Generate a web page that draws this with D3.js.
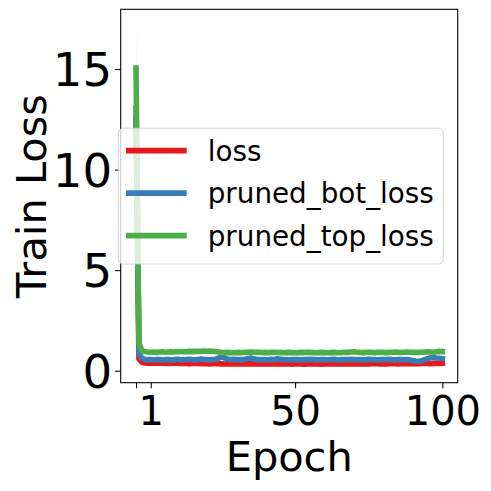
<!DOCTYPE html>
<html>
<head>
<meta charset="utf-8">
<script src="https://cdn.jsdelivr.net/npm/d3@7"></script>
<style>
  html, body { margin: 0; padding: 0; background: #ffffff; }
  svg { display: block; }
  text { font-family: "DejaVu Sans", sans-serif; fill: #000; }
</style>
</head>
<body>
<svg id="chart" width="491" height="491"></svg>
<script>
// ---------------- data ----------------
const epochs = d3.range(-4, 101); // -4 .. 100
const seriesNames = ["loss", "pruned_bot_loss", "pruned_top_loss"];
const seriesColors = ["#e41a1c", "#377eb8", "#4daf4a"];
const xTickValues = [-4, 1, 50, 100];
const xTickLabels = ["", "1", "50", "100"];
const yTickValues = [0, 5, 10, 15];

const lossValues = [12.6, 0.6, 0.42, 0.38, 0.37,
  0.38, 0.37, 0.38, 0.37, 0.38, 0.37, 0.36, 0.37, 0.38, 0.37,
  0.36, 0.37, 0.36, 0.35, 0.36, 0.37, 0.36, 0.35, 0.36, 0.35,
  0.34, 0.35, 0.36, 0.35, 0.34, 0.33, 0.34, 0.33, 0.34, 0.35,
  0.34, 0.33, 0.34, 0.35, 0.34, 0.33, 0.34, 0.35, 0.34, 0.33,
  0.34, 0.33, 0.34, 0.35, 0.34, 0.33, 0.34, 0.33, 0.32, 0.33,
  0.34, 0.33, 0.32, 0.33, 0.34, 0.33, 0.34, 0.33, 0.32, 0.33,
  0.34, 0.33, 0.34, 0.35, 0.34, 0.33, 0.34, 0.35, 0.34, 0.33,
  0.34, 0.35, 0.34, 0.33, 0.34, 0.35, 0.36, 0.35, 0.34, 0.35,
  0.34, 0.35, 0.36, 0.35, 0.34, 0.35, 0.36, 0.35, 0.36, 0.35,
  0.36, 0.35, 0.36, 0.37, 0.36, 0.35, 0.36, 0.37, 0.36, 0.37];

const botValues = [13.05, 0.9, 0.62, 0.56, 0.55,
  0.55, 0.54, 0.56, 0.55, 0.53, 0.55, 0.56, 0.54, 0.55, 0.57,
  0.55, 0.54, 0.56, 0.57, 0.55, 0.54, 0.56, 0.58, 0.56, 0.55,
  0.54, 0.56, 0.57, 0.62, 0.70, 0.64, 0.58, 0.56, 0.57, 0.55,
  0.56, 0.55, 0.57, 0.60, 0.63, 0.59, 0.56, 0.55, 0.56, 0.54,
  0.55, 0.57, 0.56, 0.59, 0.57, 0.55, 0.56, 0.54, 0.55, 0.56,
  0.55, 0.54, 0.56, 0.55, 0.57, 0.56, 0.55, 0.54, 0.56, 0.55,
  0.54, 0.56, 0.57, 0.55, 0.54, 0.55, 0.56, 0.55, 0.57, 0.56,
  0.55, 0.56, 0.54, 0.55, 0.57, 0.56, 0.55, 0.54, 0.56, 0.55,
  0.56, 0.57, 0.55, 0.54, 0.56, 0.55, 0.54, 0.56, 0.53, 0.50,
  0.48, 0.47, 0.50, 0.55, 0.60, 0.64, 0.65, 0.63, 0.62, 0.60];

const topValues = [15.05, 1.35, 1.0, 0.95, 0.93,
  0.92, 0.93, 0.91, 0.93, 0.94, 0.92, 0.93, 0.94, 0.93, 0.95,
  0.94, 0.95, 0.94, 0.96, 0.95, 0.96, 0.97, 0.96, 0.98, 0.97,
  0.98, 0.97, 0.95, 0.93, 0.91, 0.90, 0.91, 0.90, 0.89, 0.90,
  0.91, 0.90, 0.92, 0.91, 0.93, 0.92, 0.91, 0.92, 0.90, 0.91,
  0.90, 0.91, 0.92, 0.90, 0.91, 0.89, 0.90, 0.91, 0.90, 0.89,
  0.90, 0.91, 0.90, 0.92, 0.91, 0.90, 0.89, 0.90, 0.91, 0.90,
  0.89, 0.90, 0.91, 0.90, 0.89, 0.90, 0.92, 0.91, 0.93, 0.94,
  0.92, 0.91, 0.90, 0.91, 0.92, 0.91, 0.90, 0.91, 0.92, 0.91,
  0.90, 0.91, 0.92, 0.93, 0.92, 0.91, 0.92, 0.93, 0.92, 0.91,
  0.92, 0.91, 0.92, 0.93, 0.94, 0.93, 0.92, 0.94, 0.96, 0.95];

const lossStd = [1.0, 0.15, 0.06, 0.05, 0.05,
  0.05, 0.04, 0.05, 0.05, 0.04, 0.05, 0.05, 0.04, 0.05, 0.05,
  0.04, 0.05, 0.05, 0.04, 0.05, 0.04, 0.05, 0.05, 0.04, 0.05,
  0.05, 0.04, 0.05, 0.05, 0.04, 0.05, 0.04, 0.05, 0.05, 0.04,
  0.05, 0.05, 0.04, 0.05, 0.05, 0.04, 0.05, 0.04, 0.05, 0.05,
  0.04, 0.05, 0.05, 0.04, 0.05, 0.05, 0.04, 0.05, 0.04, 0.05,
  0.05, 0.04, 0.05, 0.05, 0.04, 0.05, 0.05, 0.04, 0.05, 0.04,
  0.05, 0.05, 0.04, 0.05, 0.05, 0.04, 0.05, 0.05, 0.06, 0.05,
  0.05, 0.06, 0.05, 0.05, 0.06, 0.05, 0.06, 0.05, 0.06, 0.06,
  0.05, 0.06, 0.06, 0.05, 0.06, 0.06, 0.05, 0.06, 0.06, 0.07,
  0.06, 0.07, 0.06, 0.07, 0.07, 0.06, 0.07, 0.07, 0.07, 0.07];

const botStd = [1.2, 0.2, 0.07, 0.05, 0.05,
  0.05, 0.05, 0.04, 0.05, 0.05, 0.04, 0.05, 0.05, 0.04, 0.05,
  0.05, 0.04, 0.05, 0.05, 0.04, 0.05, 0.05, 0.04, 0.05, 0.05,
  0.04, 0.05, 0.05, 0.06, 0.07, 0.06, 0.05, 0.05, 0.04, 0.05,
  0.05, 0.04, 0.05, 0.06, 0.06, 0.05, 0.05, 0.04, 0.05, 0.05,
  0.04, 0.05, 0.05, 0.05, 0.04, 0.05, 0.05, 0.04, 0.05, 0.05,
  0.04, 0.05, 0.05, 0.04, 0.05, 0.05, 0.04, 0.05, 0.05, 0.04,
  0.05, 0.05, 0.04, 0.05, 0.05, 0.04, 0.05, 0.05, 0.04, 0.05,
  0.05, 0.04, 0.05, 0.05, 0.04, 0.05, 0.05, 0.04, 0.05, 0.05,
  0.04, 0.05, 0.05, 0.04, 0.05, 0.05, 0.04, 0.05, 0.05, 0.05,
  0.05, 0.05, 0.05, 0.06, 0.06, 0.06, 0.06, 0.05, 0.05, 0.05];

const topStd = [2.08, 0.45, 0.1, 0.06, 0.05,
  0.05, 0.04, 0.05, 0.06, 0.05, 0.04, 0.05, 0.05, 0.06, 0.05,
  0.04, 0.05, 0.05, 0.06, 0.05, 0.05, 0.06, 0.05, 0.06, 0.05,
  0.05, 0.05, 0.05, 0.04, 0.05, 0.05, 0.04, 0.05, 0.05, 0.04,
  0.05, 0.05, 0.04, 0.05, 0.05, 0.04, 0.05, 0.05, 0.04, 0.05,
  0.05, 0.04, 0.05, 0.05, 0.04, 0.05, 0.05, 0.04, 0.05, 0.05,
  0.04, 0.05, 0.05, 0.04, 0.05, 0.05, 0.04, 0.05, 0.05, 0.04,
  0.05, 0.05, 0.04, 0.05, 0.05, 0.04, 0.05, 0.05, 0.05, 0.05,
  0.05, 0.04, 0.05, 0.05, 0.04, 0.05, 0.05, 0.04, 0.05, 0.05,
  0.04, 0.05, 0.05, 0.04, 0.05, 0.05, 0.04, 0.05, 0.05, 0.04,
  0.05, 0.05, 0.04, 0.05, 0.05, 0.04, 0.05, 0.05, 0.05, 0.05];

const seriesValues = [lossValues, botValues, topValues];
const seriesStd = [lossStd, botStd, topStd];

// ---------------- layout ----------------
const plot = { left: 120.7, right: 457.7, top: 9.3, bottom: 382.7 };
const svg = d3.select("#chart");

const x = d3.scaleLinear().domain([-9.2, 105.2]).range([plot.left, plot.right]);
const y = d3.scaleLinear().domain([-0.597, 17.97]).range([plot.bottom, plot.top]);

const lineW = 5.6;

const area = d3.area()
  .x((d, i) => x(epochs[i]))
  .y0(d => y(d[0]))
  .y1(d => y(d[1]));
const line = d3.line()
  .x((d, i) => x(epochs[i]))
  .y(d => y(d));

const g = svg.append("g");
seriesValues.forEach((vals, k) => {
  const band = vals.map((v, i) => [v - seriesStd[k][i], v + seriesStd[k][i]]);
  g.append("path")
    .attr("d", area(band))
    .attr("fill", seriesColors[k])
    .attr("fill-opacity", 0.3)
    .attr("stroke", "none");
  g.append("path")
    .attr("d", line(vals))
    .attr("fill", "none")
    .attr("stroke", seriesColors[k])
    .attr("stroke-width", lineW)
    .attr("stroke-linejoin", "round")
    .attr("stroke-linecap", "square");
});

// frame
svg.append("rect")
  .attr("x", plot.left).attr("y", plot.top)
  .attr("width", plot.right - plot.left)
  .attr("height", plot.bottom - plot.top)
  .attr("fill", "none").attr("stroke", "#000").attr("stroke-width", 1.07);

// x axis
const xAxis = d3.axisBottom(x)
  .tickValues(xTickValues)
  .tickFormat((d, i) => xTickLabels[i])
  .tickSize(5.6)
  .tickSizeOuter(0);
const gx = svg.append("g")
  .attr("transform", `translate(0,${plot.bottom})`)
  .call(xAxis);
gx.select(".domain").remove();
gx.selectAll(".tick line").attr("stroke", "#000").attr("stroke-width", 1.07);
gx.selectAll(".tick text")
  .attr("y", 42.3).attr("dy", null)
  .style("font-family", "'DejaVu Sans', sans-serif")
  .style("font-size", "40px")
  .attr("fill", "#000");

// y axis
const yAxis = d3.axisLeft(y)
  .tickValues(yTickValues)
  .tickFormat(d3.format("d"))
  .tickSize(5.6)
  .tickSizeOuter(0);
const gy = svg.append("g")
  .attr("transform", `translate(${plot.left},0)`)
  .call(yAxis);
gy.select(".domain").remove();
gy.selectAll(".tick line").attr("stroke", "#000").attr("stroke-width", 1.07);
gy.selectAll(".tick text")
  .attr("x", -8.6).attr("dy", "0.36em")
  .style("font-family", "'DejaVu Sans', sans-serif")
  .style("font-size", "46.7px")
  .attr("fill", "#000");

// axis labels
svg.append("text")
  .attr("x", (plot.left + plot.right) / 2)
  .attr("y", 471)
  .attr("text-anchor", "middle")
  .style("font-size", "41.5px")
  .text("Epoch");
svg.append("text")
  .attr("transform", `translate(46,${(plot.top + plot.bottom) / 2}) rotate(-90)`)
  .attr("text-anchor", "middle")
  .style("font-size", "41.5px")
  .text("Train Loss");

// legend
const lg = svg.append("g");
lg.append("rect")
  .attr("x", 118.3).attr("y", 128.3)
  .attr("width", 325).attr("height", 135.7)
  .attr("rx", 5).attr("ry", 5)
  .attr("fill", "#fff").attr("fill-opacity", 0.8)
  .attr("stroke", "#cccccc").attr("stroke-opacity", 0.8).attr("stroke-width", 1.07);
const rowY = [150.6, 193.1, 235.6];
seriesNames.forEach((name, k) => {
  lg.append("line")
    .attr("x1", 126).attr("x2", 186.7)
    .attr("y1", rowY[k]).attr("y2", rowY[k])
    .attr("stroke", seriesColors[k]).attr("stroke-width", lineW);
  lg.append("text")
    .attr("x", 207.7).attr("y", rowY[k] + 10)
    .style("font-size", "27.8px")
    .text(name);
});
</script>
</body>
</html>
